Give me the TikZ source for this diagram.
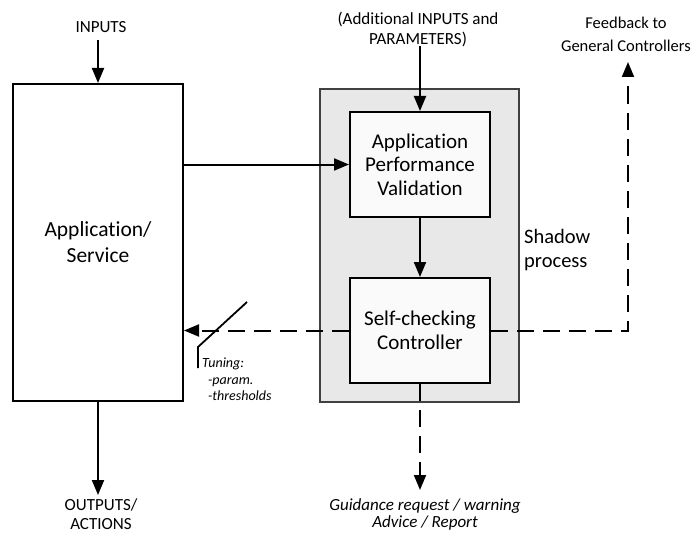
\documentclass[tikz,border=0pt]{standalone}
\usepackage{fontspec}
\setmainfont[Ligatures=CommonOff]{Carlito}
\usetikzlibrary{arrows.meta}
\begin{document}
\begin{tikzpicture}[x=1pt,y=-1pt,
  conn/.style={line width=2pt,-{Triangle[length=15pt,width=12pt]}},
  dconn/.style={conn,dash pattern=on 17pt off 9pt},
  blk/.style={draw=black,line width=2pt,fill=white,inner sep=0pt,align=center},
  inner/.style={blk,fill=black!2,minimum width=140pt,minimum height=105pt,font=\fontsize{21}{23.5}\selectfont},
  lbl/.style={inner sep=0pt,align=center,font=\fontsize{17}{20}\selectfont},
  ilbl/.style={lbl,font=\fontsize{17}{17}\selectfont\itshape}]
\useasboundingbox (0,0) rectangle (694,535);

\node[blk,minimum width=170pt,minimum height=317pt,font=\fontsize{21.5}{26}\selectfont] (app) at (98,242.5) {Application/\\Service};
\node[draw=black!75,line width=1.5pt,fill=black!9,minimum width=199pt,minimum height=313pt,inner sep=0pt] (shadow) at (419.5,245.5) {};
\node[inner] (apv) at (420,164.5) {Application\\Performance\\Validation};
\node[inner] (scc) at (420,330.5) {Self-checking\\Controller};
\node[anchor=west,inner sep=0pt,align=left,font=\fontsize{20.5}{24}\selectfont] (shlbl) at (524,250) {Shadow\\process};

\node[lbl] (inp) at (101,27) {INPUTS};
\coordinate (inpE) at (98,40);
\node[lbl] (addl) at (418,29) {(Additional INPUTS and\\PARAMETERS)};
\coordinate (addlE) at (420,46);
\node[lbl,font=\fontsize{16.5}{23}\selectfont] (fb) at (626,34) {Feedback to\\General Controllers};
\coordinate (fbE) at (628,62);
\coordinate (fbC) at (628,330.5);
\node[lbl,font=\fontsize{17}{18.5}\selectfont] (out) at (101,514) {OUTPUTS/\\ACTIONS};
\coordinate (outE) at (98,495);
\node[ilbl] (guid) at (425,514) {Guidance request / warning\\Advice / Report};
\coordinate (guidE) at (420,490);

\coordinate (sw1) at (198,347);
\coordinate (sw2) at (247,302);
\coordinate (sw3) at (198,368);
\node[anchor=north west,inner sep=0pt,align=left,font=\fontsize{14}{16.5}\selectfont\itshape] (tun) at (202,358) {Tuning:\\\hspace*{6pt}-param.\\\hspace*{6pt}-thresholds};

\draw[conn] (inpE) -- (app.north -| inpE);
\draw[conn] (app.south -| outE) -- (outE);
\draw[conn] (addlE) -- (apv.north);
\draw[conn] (app.east |- apv.west) -- (apv.west);
\draw[conn] (apv.south) -- (scc.north);
\draw[dconn] (scc.west) -- (app.east |- scc.west);
\draw[dconn] (scc.east) -- (fbC) -- (fbE);
\draw[dconn] (scc.south) -- (guidE);
\draw[line width=1.8pt] (sw3) -- (sw1) -- (sw2);
\end{tikzpicture}
\end{document}
